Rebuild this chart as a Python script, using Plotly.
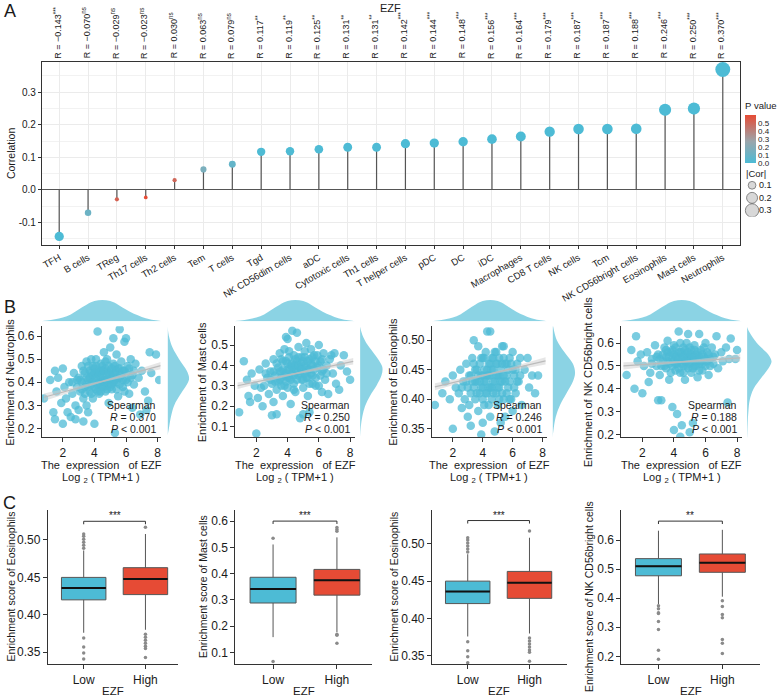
import plotly.graph_objects as go

W, H = 778, 700
FONT = "Liberation Sans, Arial, Helvetica, sans-serif"
TXT = "#1a1a1a"
BLUE = "#4DBBD5"
RED = "#E64B35"
GENE = "EZF"

# ---------------- Panel A data ----------------
cells = ["TFH", "B cells", "TReg", "Th17 cells", "Th2 cells", "Tem", "T cells", "Tgd",
         "NK CD56dim cells", "aDC", "Cytotoxic cells", "Th1 cells", "T helper cells", "pDC",
         "DC", "iDC", "Macrophages", "CD8 T cells", "NK cells", "Tcm", "NK CD56bright cells",
         "Eosinophils", "Mast cells", "Neutrophils"]
cor_r = [-0.143, -0.070, -0.029, -0.023, 0.030, 0.063, 0.079, 0.117, 0.119, 0.125, 0.131, 0.131,
         0.142, 0.144, 0.148, 0.156, 0.164, 0.179, 0.187, 0.187, 0.188, 0.246, 0.250, 0.370]
p_val = [0.001, 0.11, 0.52, 0.60, 0.50, 0.16, 0.08, 0.004, 0.004, 0.003, 0.002, 0.002,
         0.0008, 0.0007, 0.0006, 0.0004, 0.0002, 0.0001, 0.0001, 0.0001, 0.0001, 0.0, 0.0, 0.0]
sig = ["***", "ns", "ns", "ns", "ns", "ns", "ns", "**", "**", "**", "**", "**",
       "***", "***", "***", "***", "***", "***", "***", "***", "***", "***", "***", "***"]
size_legend_vals = [0.1, 0.2, 0.3]
pval_ticks = [0.0, 0.1, 0.2, 0.3, 0.4, 0.5]

# ---------------- Panel B data ----------------
b_cells = ["Neutrophils", "Mast cells", "Eosinophils", "NK CD56bright cells"]
b_r = ["0.370", "0.250", "0.246", "0.188"]
neut_pts = [(0.8,0.33),(1.2,0.41),(1.4,0.27),(1.5,0.24),(1.5,0.45),(1.6,0.36),(1.7,0.42),(1.9,0.31),
            (2.0,0.22),(2.0,0.46),(2.1,0.38),(2.2,0.33),(2.3,0.27),(2.4,0.40),(2.5,0.25),(2.6,0.35),
            (2.7,0.44),(2.8,0.30),(2.8,0.24),(2.9,0.38),(3.0,0.42),(3.0,0.28),(3.1,0.36),(3.2,0.47),
            (3.2,0.40),(3.3,0.33),(3.3,0.23),(3.4,0.44),(3.4,0.38),(3.5,0.30),(3.5,0.49),(3.5,0.42),
            (3.6,0.27),(3.6,0.41),(3.7,0.45),(3.7,0.36),(3.8,0.39),(3.8,0.50),(3.8,0.44),(3.9,0.43),
            (3.9,0.33),(4.0,0.22),(4.0,0.41),(4.0,0.46),(4.1,0.47),(4.1,0.37),(4.2,0.62),(4.2,0.44),
            (4.2,0.39),(4.3,0.40),(4.3,0.35),(4.4,0.48),(4.4,0.42),(4.4,0.45),(4.5,0.38),(4.5,0.45),
            (4.5,0.40),(4.6,0.53),(4.6,0.41),(4.7,0.36),(4.7,0.46),(4.8,0.43),(4.8,0.50),(4.8,0.37),
            (4.9,0.39),(4.9,0.31),(5.0,0.45),(5.0,0.55),(5.0,0.41),(5.1,0.42),(5.1,0.37),(5.2,0.59),
            (5.2,0.48),(5.2,0.40),(5.3,0.18),(5.3,0.44),(5.4,0.40),(5.4,0.52),(5.5,0.46),(5.5,0.34),
            (5.6,0.63),(5.6,0.42),(5.7,0.49),(5.8,0.38),(5.9,0.575),(5.9,0.45),(6.0,0.59),(6.0,0.41),
            (6.1,0.47),(6.2,0.35),(6.3,0.50),(6.4,0.43),(6.4,0.29),(6.5,0.39),(6.6,0.48),(6.8,0.42),
            (6.9,0.26),(7.0,0.45),(7.2,0.36),(7.3,0.28),(7.4,0.32),(7.5,0.53),(7.6,0.44),(7.9,0.52),
            (8.1,0.41)]
neut_core = [(3.1,0.41),(3.3,0.45),(3.4,0.35),(3.6,0.47),(3.6,0.38),(3.7,0.42),(3.9,0.40),(3.9,0.47),
             (4.0,0.38),(4.0,0.44),(4.1,0.42),(4.1,0.50),(4.2,0.36),(4.3,0.45),(4.3,0.43),(4.4,0.39),
             (4.5,0.47),(4.5,0.43),(4.6,0.38),(4.6,0.45),(4.7,0.40),(4.7,0.49),(4.8,0.41),(4.9,0.44),
             (4.9,0.47),(5.0,0.38),(5.0,0.43),(5.1,0.46),(5.1,0.39),(5.2,0.44),(5.3,0.41),(5.3,0.47),
             (5.4,0.37),(5.4,0.45),(5.5,0.42),(5.6,0.39),(5.6,0.46),(5.7,0.43),(5.8,0.45),(5.8,0.41),
             (6.0,0.44),(6.1,0.40),(6.2,0.46),(6.3,0.42),(3.5,0.39),(3.2,0.37),(2.9,0.41),(5.9,0.36),
             (6.5,0.45),(4.4,0.36),(3.8,0.35),(2.6,0.40)]
mast_pts = [(0.9,0.17),(1.2,0.42),(1.4,0.33),(1.5,0.25),(1.6,0.22),(1.7,0.36),(1.9,0.30),(2.0,0.065),
            (2.1,0.24),(2.2,0.38),(2.3,0.29),(2.4,0.20),(2.5,0.30),(2.6,0.41),(2.7,0.34),(2.8,0.26),
            (2.9,0.37),(3.0,0.155),(3.0,0.31),(3.1,0.43),(3.1,0.22),(3.2,0.35),(3.3,0.16),(3.3,0.28),
            (3.4,0.39),(3.5,0.33),(3.5,0.46),(3.6,0.30),(3.6,0.37),(3.7,0.42),(3.7,0.25),(3.8,0.35),
            (3.8,0.48),(3.9,0.54),(3.9,0.32),(4.0,0.53),(4.0,0.38),(4.0,0.29),(4.1,0.44),(4.1,0.34),
            (4.2,0.21),(4.2,0.40),(4.3,0.57),(4.3,0.36),(4.4,0.31),(4.4,0.45),(4.5,0.38),(4.5,0.27),
            (4.6,0.56),(4.6,0.42),(4.7,0.35),(4.7,0.49),(4.8,0.14),(4.8,0.39),(4.9,0.33),(4.9,0.44),
            (5.0,0.16),(5.0,0.37),(5.0,0.29),(5.1,0.47),(5.1,0.40),(5.2,0.34),(5.2,0.51),(5.3,0.38),
            (5.3,0.25),(5.4,0.17),(5.4,0.43),(5.5,0.36),(5.5,0.48),(5.6,0.31),(5.6,0.40),(5.7,0.45),
            (5.8,0.34),(5.9,0.39),(6.0,0.50),(6.0,0.30),(6.1,0.42),(6.2,0.27),(6.2,0.37),(6.3,0.46),
            (6.4,0.33),(6.5,0.40),(6.6,0.26),(6.7,0.43),(6.8,0.45),(6.9,0.36),(7.0,0.46),(7.1,0.31),
            (7.3,0.28),(7.4,0.40),(7.6,0.45),(7.8,0.37),(8.0,0.33)]
mast_core = [(3.1,0.37),(3.3,0.41),(3.4,0.32),(3.6,0.43),(3.6,0.34),(3.7,0.38),(3.9,0.36),(3.9,0.42),
             (4.0,0.34),(4.0,0.41),(4.1,0.38),(4.1,0.47),(4.2,0.33),(4.3,0.41),(4.3,0.39),(4.4,0.35),
             (4.5,0.43),(4.5,0.40),(4.6,0.33),(4.6,0.37),(4.7,0.40),(4.7,0.44),(4.8,0.36),(4.9,0.41),
             (4.9,0.38),(5.0,0.33),(5.0,0.42),(5.1,0.36),(5.1,0.44),(5.2,0.39),(5.3,0.34),(5.3,0.42),
             (5.4,0.31),(5.4,0.38),(5.5,0.41),(5.6,0.35),(5.6,0.44),(5.7,0.38),(5.8,0.42),(5.8,0.30),
             (6.0,0.40),(6.1,0.35),(6.2,0.43),(6.3,0.38),(3.5,0.37),(3.2,0.32),(2.9,0.33),(5.9,0.45),
             (6.5,0.36),(4.4,0.28),(3.8,0.30),(2.6,0.36)]
eos_pts = [(0.8,0.39),(1.3,0.41),(1.5,0.43),(1.8,0.40),(2.0,0.35),(2.0,0.44),(2.2,0.42),(2.4,0.41),
           (2.5,0.45),(2.6,0.385),(2.7,0.43),(2.8,0.40),(2.9,0.46),(3.0,0.42),(3.0,0.37),(3.1,0.39),
           (3.2,0.355),(3.2,0.44),(3.3,0.47),(3.4,0.50),(3.4,0.42),(3.5,0.40),(3.5,0.45),(3.6,0.43),
           (3.7,0.49),(3.7,0.38),(3.8,0.46),(3.8,0.41),(3.9,0.34),(3.9,0.44),(4.0,0.47),(4.0,0.42),
           (4.0,0.36),(4.1,0.39),(4.1,0.45),(4.2,0.43),(4.2,0.48),(4.3,0.515),(4.3,0.41),(4.4,0.46),
           (4.4,0.44),(4.5,0.515),(4.5,0.37),(4.5,0.42),(4.6,0.47),(4.6,0.40),(4.7,0.45),(4.7,0.43),
           (4.8,0.345),(4.8,0.48),(4.9,0.41),(4.9,0.46),(5.0,0.44),(5.0,0.39),(5.1,0.47),(5.1,0.42),
           (5.2,0.36),(5.2,0.45),(5.3,0.43),(5.3,0.49),(5.4,0.49),(5.4,0.40),(5.5,0.37),(5.5,0.46),
           (5.6,0.44),(5.7,0.42),(5.8,0.47),(5.9,0.40),(6.0,0.38),(6.0,0.48),(6.1,0.44),(6.2,0.41),
           (6.3,0.46),(6.4,0.43),(6.5,0.47),(6.6,0.39),(6.8,0.45),(7.0,0.47),(7.1,0.42),(7.3,0.44),
           (7.5,0.41),(7.7,0.44)]
eos_core = [(3.1,0.44),(3.3,0.43),(3.4,0.46),(3.6,0.45),(3.6,0.41),(3.7,0.44),(3.9,0.42),(3.9,0.47),
            (4.0,0.44),(4.0,0.40),(4.1,0.43),(4.1,0.47),(4.2,0.41),(4.3,0.45),(4.3,0.44),(4.4,0.42),
            (4.5,0.46),(4.5,0.44),(4.6,0.42),(4.6,0.45),(4.7,0.41),(4.7,0.47),(4.8,0.43),(4.9,0.44),
            (4.9,0.48),(5.0,0.42),(5.0,0.46),(5.1,0.44),(5.1,0.40),(5.2,0.43),(5.3,0.41),(5.3,0.46),
            (5.4,0.44),(5.4,0.47),(5.5,0.43),(5.6,0.41),(5.6,0.46),(5.7,0.45),(5.8,0.43),(5.8,0.40),
            (6.0,0.45),(6.1,0.42),(6.2,0.45),(6.3,0.43),(3.5,0.43),(3.2,0.41),(2.9,0.43),(5.9,0.46),
            (6.5,0.44),(4.4,0.39),(3.8,0.43),(2.6,0.42)]
nk_pts = [(1.0,0.46),(1.3,0.57),(1.5,0.40),(1.6,0.63),(1.7,0.52),(1.9,0.55),(2.0,0.38),(2.1,0.50),
          (2.3,0.56),(2.4,0.43),(2.5,0.47),(2.6,0.53),(2.8,0.59),(2.9,0.50),(3.0,0.35),(3.0,0.55),
          (3.1,0.46),(3.2,0.35),(3.3,0.52),(3.4,0.58),(3.5,0.49),(3.5,0.54),(3.6,0.61),(3.7,0.44),
          (3.7,0.51),(3.8,0.56),(3.9,0.32),(3.9,0.53),(4.0,0.22),(4.0,0.59),(4.1,0.48),(4.1,0.54),
          (4.2,0.29),(4.2,0.51),(4.3,0.65),(4.3,0.56),(4.4,0.19),(4.4,0.47),(4.5,0.24),(4.5,0.53),
          (4.6,0.58),(4.6,0.50),(4.7,0.55),(4.7,0.44),(4.8,0.52),(4.8,0.60),(4.9,0.64),(4.9,0.49),
          (5.0,0.21),(5.0,0.54),(5.1,0.57),(5.1,0.47),(5.2,0.25),(5.2,0.52),(5.3,0.59),(5.3,0.50),
          (5.4,0.55),(5.5,0.45),(5.5,0.53),(5.6,0.64),(5.6,0.51),(5.7,0.57),(5.8,0.48),(5.9,0.54),
          (6.0,0.60),(6.0,0.50),(6.1,0.56),(6.2,0.46),(6.3,0.53),(6.4,0.58),(6.5,0.51),(6.6,0.55),
          (6.7,0.63),(6.8,0.49),(7.0,0.56),(7.1,0.52),(7.3,0.58),(7.4,0.34),(7.5,0.53),(7.6,0.62),
          (7.9,0.53),(8.0,0.57)]
nk_core = [(3.1,0.53),(3.3,0.55),(3.4,0.50),(3.6,0.56),(3.6,0.52),(3.7,0.54),(3.9,0.50),(3.9,0.57),
           (4.0,0.52),(4.0,0.55),(4.1,0.51),(4.1,0.58),(4.2,0.54),(4.3,0.49),(4.3,0.53),(4.4,0.56),
           (4.5,0.51),(4.5,0.56),(4.6,0.54),(4.6,0.47),(4.7,0.52),(4.7,0.57),(4.8,0.50),(4.9,0.54),
           (4.9,0.56),(5.0,0.51),(5.0,0.58),(5.1,0.53),(5.1,0.55),(5.2,0.49),(5.3,0.54),(5.3,0.57),
           (5.4,0.52),(5.4,0.50),(5.5,0.56),(5.6,0.54),(5.6,0.48),(5.7,0.52),(5.8,0.55),(5.8,0.51),
           (6.0,0.53),(6.1,0.52),(6.2,0.55),(6.3,0.50),(3.5,0.57),(3.2,0.50),(2.9,0.54),(5.9,0.58),
           (6.5,0.54),(4.4,0.60),(3.8,0.47),(2.6,0.51)]
b_points = [neut_pts + neut_core, mast_pts + mast_core, eos_pts + eos_core, nk_pts + nk_core]

# fitted line (x, y) and confidence half-width
fit_x = [0.8, 4.5, 8.2]
fit_y = [[0.335, 0.404, 0.472], [0.300, 0.360, 0.420], [0.421, 0.443, 0.465], [0.500, 0.518, 0.535]]
fit_se = [[0.016, 0.004, 0.016], [0.016, 0.004, 0.016], [0.006, 0.0015, 0.006], [0.016, 0.004, 0.016]]

# marginal densities
expr_dens_x = [0.6, 1.0, 1.5, 2.0, 2.5, 3.0, 3.5, 4.0, 4.5, 5.0, 5.5, 6.0, 6.5, 7.0, 7.5, 8.0, 8.3]
expr_dens_y = [0.0, 0.01, 0.03, 0.06, 0.11, 0.19, 0.27, 0.33, 0.35, 0.33, 0.27, 0.19, 0.12, 0.07, 0.03, 0.01, 0.0]
cell_dens_v = [[0.17, 0.20, 0.25, 0.30, 0.35, 0.40, 0.42, 0.45, 0.50, 0.55, 0.60, 0.64],
               [0.05, 0.10, 0.15, 0.20, 0.25, 0.30, 0.35, 0.38, 0.40, 0.45, 0.50, 0.55, 0.59],
               [0.335, 0.35, 0.37, 0.39, 0.41, 0.43, 0.445, 0.46, 0.48, 0.50, 0.524],
               [0.17, 0.25, 0.30, 0.35, 0.40, 0.45, 0.50, 0.52, 0.55, 0.60, 0.65, 0.67]]
cell_dens_d = [[0.0, 0.4, 1.0, 2.0, 4.0, 6.2, 6.5, 5.8, 3.5, 1.5, 0.4, 0.0],
               [0.0, 0.2, 0.6, 1.3, 2.6, 4.3, 5.6, 5.9, 5.7, 4.0, 2.0, 0.6, 0.0],
               [0.0, 1.0, 3.0, 7.0, 13.0, 19.0, 21.0, 19.0, 11.0, 4.0, 0.5],
               [0.0, 0.2, 0.4, 0.8, 2.0, 4.5, 7.0, 7.5, 6.5, 3.0, 0.6, 0.0]]

# ---------------- Panel C data ----------------
groups = ["Low", "High"]
c_cells = ["Eosinophils", "Mast cells", "Eosinophils", "NK CD56bright cells"]
c_sig = ["***", "***", "***", "**"]
eos_box = {"q1": [0.420, 0.427], "med": [0.436, 0.448], "q3": [0.450, 0.463],
           "lo": [0.376, 0.380], "hi": [0.486, 0.508],
           "out": [[0.489, 0.493, 0.497, 0.501, 0.505, 0.508, 0.369, 0.357, 0.349, 0.341],
                   [0.517, 0.374, 0.370, 0.366, 0.362, 0.358, 0.355, 0.343]]}
mast_box = {"q1": [0.288, 0.318], "med": [0.341, 0.375], "q3": [0.386, 0.416],
            "lo": [0.158, 0.177], "hi": [0.511, 0.538],
            "out": [[0.535, 0.065], [0.561, 0.568, 0.576, 0.169, 0.165, 0.135]]}
nk_box = {"q1": [0.477, 0.489], "med": [0.510, 0.522], "q3": [0.536, 0.552],
          "lo": [0.380, 0.405], "hi": [0.632, 0.635],
          "out": [[0.374, 0.364, 0.350, 0.347, 0.320, 0.292, 0.221, 0.190],
                  [0.391, 0.371, 0.344, 0.333, 0.258, 0.245, 0.210]]}
c_boxes = [eos_box, mast_box, eos_box, nk_box]
bracket_y = [0.525, 0.600, 0.531, 0.665]
bracket_tip = [0.004, 0.011, 0.004, 0.010]

# ---------------- helpers ----------------
def fx(v):
    return v / W


def fy(v):
    return 1 - v / H


axes = {}
n_ax = [0]


def add_axes(xd, yd, xa, ya):
    n_ax[0] += 1
    k = n_ax[0]
    s = "" if k == 1 else str(k)
    axes["xaxis" + s] = dict(domain=[fx(xd[0]), fx(xd[1])], anchor="y" + s, **xa)
    axes["yaxis" + s] = dict(domain=[fy(yd[1]), fy(yd[0])], anchor="x" + s, **ya)
    return "x" + s, "y" + s


def lin_axis(rng, tickvals, ticktext=None, size=12):
    d = dict(range=rng, tickvals=tickvals, showgrid=False, zeroline=False, showline=True,
             linecolor="#333", linewidth=1, ticks="outside", ticklen=4, tickcolor="#333",
             tickfont=dict(size=size, color=TXT))
    if ticktext is not None:
        d["ticktext"] = ticktext
    return d


def hidden(rng):
    return dict(visible=False, range=rng, showgrid=False, zeroline=False)


fig = go.Figure()
ann = []

def note(text, x, y, size=11, angle=0, xanchor="center", yanchor="middle", xref="paper", yref="paper", **kw):
    ann.append(dict(text=text, x=x, y=y, xref=xref, yref=yref, showarrow=False, textangle=angle,
                    xanchor=xanchor, yanchor=yanchor, font=dict(size=size, color=TXT, family=FONT), **kw))

# ---------------- Panel A ----------------
idx = list(range(len(cells)))
xa, ya = add_axes((41, 741), (62, 246),
                  dict(range=[-0.6, 23.6], tickvals=idx, ticktext=cells, tickangle=-30,
                       showgrid=True, gridcolor="#EBEBEB", gridwidth=1, zeroline=False,
                       showline=True, mirror=True, linecolor="#333", linewidth=1,
                       ticks="outside", ticklen=3, tickcolor="#333",
                       tickfont=dict(size=9.5, color=TXT)),
                  dict(range=[-0.168, 0.394], tickvals=[-0.1, 0.0, 0.1, 0.2, 0.3],
                       ticktext=["-0.1", "0.0", "0.1", "0.2", "0.3"],
                       showgrid=True, gridcolor="#EBEBEB", gridwidth=1,
                       minor=dict(tick0=0, dtick=0.05, showgrid=True, gridcolor="#F2F2F2"),
                       zeroline=True, zerolinecolor="#555", zerolinewidth=1.3,
                       showline=True, mirror=True, linecolor="#333", linewidth=1,
                       ticks="outside", ticklen=3, tickcolor="#333",
                       tickfont=dict(size=10, color=TXT)))
stem_x, stem_y = [], []
for i, r in zip(idx, cor_r):
    stem_x += [i, i, None]
    stem_y += [0, r, None]
fig.add_trace(go.Scatter(x=stem_x, y=stem_y, mode="lines", line=dict(color="#555", width=1.2),
                         xaxis=xa, yaxis=ya, hoverinfo="skip"))
pscale = [[0.0, BLUE], [0.45, "#9AA6AC"], [1.0, RED]]
fig.add_trace(go.Scatter(
    x=idx, y=cor_r, mode="markers", xaxis=xa, yaxis=ya,
    marker=dict(size=[24.5 * abs(r) ** 0.5 for r in cor_r], color=p_val, colorscale=pscale,
                cmin=0, cmax=0.6, line=dict(width=0), opacity=1,
                colorbar=dict(title=dict(text="P value", side="top", font=dict(size=9.5, color=TXT)),
                              x=fx(746), xanchor="left", y=fy(132), yanchor="middle",
                              lenmode="pixels", len=64, thicknessmode="pixels", thickness=11,
                              tickvals=pval_ticks, ticktext=["%.1f" % v for v in pval_ticks],
                              tickfont=dict(size=8, color=TXT), outlinewidth=0, ticks="",
                              xpad=0, ypad=0))))
for i, r, s in zip(idx, cor_r, sig):
    txt = ("R = %.3f" % r).replace("-", "\u2212") + "<sup>" + s + "</sup>"
    note(txt, i, fy(62), size=9, angle=-90, xanchor="center", yanchor="bottom", xref=xa,
         xshift=-2, yshift=1)
note(GENE, fx(391), fy(8), size=11)
note("Correlation", fx(10), fy(154), size=10.5, angle=-90)
note("A", fx(9), fy(11), size=18)

# size legend
lx, ly = add_axes((745, 761), (180, 218), hidden([-1, 1]), hidden([0.35, 0.05]))
fig.add_trace(go.Scatter(x=[0] * 3, y=size_legend_vals, mode="markers", xaxis=lx, yaxis=ly,
                         marker=dict(size=[24.5 * v ** 0.5 for v in size_legend_vals], color="#C8C8C8",
                                     line=dict(color="#555", width=1)), hoverinfo="skip"))
for v in size_legend_vals:
    note("%.1f" % v, fx(758), v, size=9, xanchor="left", yref=ly)
note("|Cor|", fx(745), fy(174), size=9.5, xanchor="left")

# ---------------- Panel B ----------------
b_xdom = [(41, 160), (235, 355), (432, 547), (622, 743)]
b_xrng = [[0.673, 8.19], [0.66, 8.32], [0.60, 8.27], [0.67, 8.32]]
b_yrng = [[0.161, 0.643], [0.046, 0.593], [0.335, 0.524], [0.187, 0.674]]
b_yticks = [[0.2, 0.3, 0.4, 0.5, 0.6], [0.1, 0.2, 0.3, 0.4, 0.5],
            [0.35, 0.40, 0.45, 0.50], [0.2, 0.3, 0.4, 0.5, 0.6]]
b_ytitle_x = [9, 201, 393, 588]
b_rdens = [(167, 189), (360, 383), (553, 576), (748, 773)]
YD = (328, 440)
for k in range(4):
    xs, ys = zip(*b_points[k])
    fmt = "%.2f" if k == 2 else "%.1f"
    sx, sy = add_axes(b_xdom[k], YD,
                      lin_axis(b_xrng[k], [2, 4, 6, 8], ["2", "4", "6", "8"]),
                      lin_axis(b_yrng[k], b_yticks[k], [fmt % v for v in b_yticks[k]]))
    fig.add_trace(go.Scatter(x=xs, y=ys, mode="markers", xaxis=sx, yaxis=sy,
                             marker=dict(size=8.5, color=BLUE, opacity=0.75, line=dict(width=0)),
                             hoverinfo="skip"))
    lo = [y - e for y, e in zip(fit_y[k], fit_se[k])]
    hi = [y + e for y, e in zip(fit_y[k], fit_se[k])]
    fig.add_trace(go.Scatter(x=fit_x + fit_x[::-1], y=hi + lo[::-1], fill="toself", mode="lines",
                             line=dict(width=0), fillcolor="rgba(205,205,205,0.5)",
                             xaxis=sx, yaxis=sy, hoverinfo="skip"))
    fig.add_trace(go.Scatter(x=fit_x, y=fit_y[k], mode="lines", line=dict(color="#BBBBBB", width=1.2),
                             xaxis=sx, yaxis=sy, hoverinfo="skip"))
    # top density
    tx, ty = add_axes(b_xdom[k], (301, 323), hidden(b_xrng[k]), hidden([0, 0.36]))
    fig.add_trace(go.Scatter(x=expr_dens_x, y=expr_dens_y, mode="lines", fill="tozeroy",
                             line=dict(width=0, shape="spline"), fillcolor="rgba(77,187,213,0.65)",
                             xaxis=tx, yaxis=ty, hoverinfo="skip"))
    # right density
    rx, ry = add_axes(b_rdens[k], YD, hidden([0, max(cell_dens_d[k]) * 1.02]), hidden(b_yrng[k]))
    fig.add_trace(go.Scatter(x=cell_dens_d[k], y=cell_dens_v[k], mode="lines", fill="tozerox",
                             line=dict(width=0, shape="spline"), fillcolor="rgba(77,187,213,0.65)",
                             xaxis=rx, yaxis=ry, hoverinfo="skip"))
    # texts
    right = b_xdom[k][1] - 3
    note("Spearman", fx(right), fy(407), size=10.5, xanchor="right")
    note("<i>R</i> = " + b_r[k], fx(right), fy(419), size=10.5, xanchor="right")
    note("<i>P</i> &lt; 0.001", fx(right), fy(431), size=10.5, xanchor="right")
    cx = (b_xdom[k][0] + b_xdom[k][1]) / 2
    note("The  expression   of " + GENE, fx(cx), fy(468), size=11)
    note("Log <sub>2</sub> ( TPM+1 )", fx(cx), fy(481), size=11)
    note("Enrichment of " + b_cells[k], fx(b_ytitle_x[k]), fy(384), size=11, angle=-90)
note("B", fx(9), fy(309), size=18)

# ---------------- Panel C ----------------
c_xdom = [(47, 177), (235, 372), (432, 567), (622, 761)]
c_xrng = [[-0.58, 1.52], [-0.59, 1.55], [-0.58, 1.60], [-0.58, 1.59]]
c_yrng = [[0.334, 0.540], [0.055, 0.642], [0.339, 0.545], [0.173, 0.703]]
c_yticks = [[0.35, 0.40, 0.45, 0.50], [0.1, 0.2, 0.3, 0.4, 0.5, 0.6],
            [0.35, 0.40, 0.45, 0.50], [0.2, 0.3, 0.4, 0.5, 0.6]]
c_ytitle_x = [10, 202, 394, 589]
c_ytitle_y = [590, 590, 590, 600]
fills = [BLUE, RED]
BW = 0.72
for k in range(4):
    fmt = "%.1f" if k in (1, 3) else "%.2f"
    cxa, cya = add_axes(c_xdom[k], (513, 668),
                        lin_axis(c_xrng[k], [0, 1], groups),
                        lin_axis(c_yrng[k], c_yticks[k], [fmt % v for v in c_yticks[k]]))
    bx = c_boxes[k]
    for g in range(2):
        fig.add_trace(go.Box(x=[g], q1=[bx["q1"][g]], median=[bx["med"][g]], q3=[bx["q3"][g]],
                             lowerfence=[bx["lo"][g]], upperfence=[bx["hi"][g]], width=BW,
                             whiskerwidth=0, fillcolor=fills[g], line=dict(color="#555", width=1),
                             boxpoints=False, xaxis=cxa, yaxis=cya, hoverinfo="skip"))
        fig.add_trace(go.Scatter(x=[g - BW / 2, g + BW / 2], y=[bx["med"][g]] * 2, mode="lines",
                                 line=dict(color="#111", width=2), xaxis=cxa, yaxis=cya,
                                 hoverinfo="skip"))
        fig.add_trace(go.Scatter(x=[g] * len(bx["out"][g]), y=bx["out"][g], mode="markers",
                                 marker=dict(size=3.5, color="#8A8A8A"), xaxis=cxa, yaxis=cya,
                                 hoverinfo="skip"))
    b, t = bracket_y[k], bracket_tip[k]
    fig.add_trace(go.Scatter(x=[0, 0, 1, 1], y=[b - t, b, b, b - t], mode="lines",
                             line=dict(color="#333", width=1), xaxis=cxa, yaxis=cya, hoverinfo="skip"))
    note(c_sig[k], 0.5, b, size=10, xref=cxa, yref=cya, yanchor="bottom", yshift=-2)
    cx = (c_xdom[k][0] + c_xdom[k][1]) / 2
    note(GENE, fx(cx), fy(695), size=11.5)
    note("Enrichment score of " + c_cells[k], fx(c_ytitle_x[k]), fy(c_ytitle_y[k]), size=10.5, angle=-90)
note("C", fx(9), fy(506), size=18)

fig.update_layout(width=W, height=H, margin=dict(l=0, r=0, t=0, b=0), autosize=False,
                  paper_bgcolor="white", plot_bgcolor="white", showlegend=False,
                  font=dict(family=FONT, color=TXT), annotations=ann, **axes)
fig.write_html("out.html")
